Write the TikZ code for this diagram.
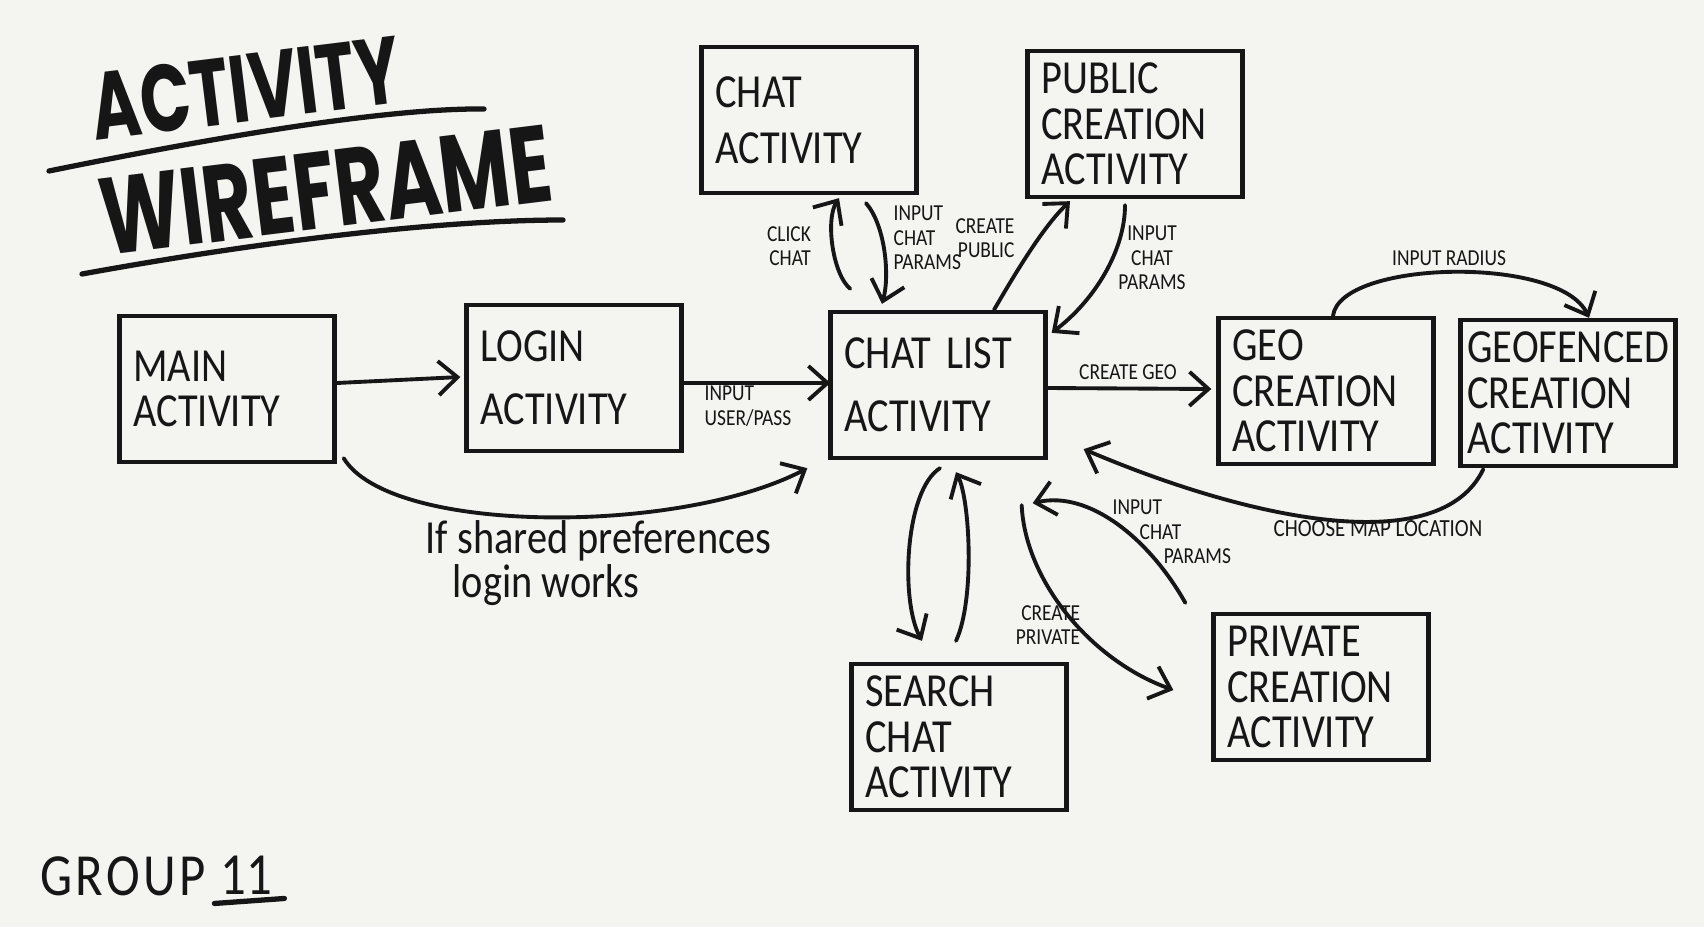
\documentclass[tikz,border=0pt]{standalone}
\usepackage{fontspec}
\setmainfont{Carlito}
\newfontfamily\handfont[FakeStretch=0.85]{Carlito}
\newfontfamily\titlefont[FakeStretch=0.7]{Poppins}
\usetikzlibrary{arrows.meta,calc}
\definecolor{paper}{RGB}{244,244,240}
\definecolor{ink}{RGB}{22,22,22}

\tikzset{
  activity/.style={draw=ink,line width=1.2pt,minimum width=2.15cm,minimum height=1.46cm,
    inner xsep=0.14cm,text width=1.87cm,align=left,text=ink,
    font=\handfont\fontsize{13.5}{13}\selectfont},
  link/.style={draw=ink,line width=1.1pt,line cap=round,
    -{Straight Barb[length=1.9mm,width=3.4mm]}},
  small/.style={font=\handfont\fontsize{6.5}{7}\selectfont,text=ink,inner sep=0pt},
  title/.style={font=\titlefont\bfseries,text=ink,rotate=7,inner sep=0pt},
  rule/.style={draw=ink,line width=1.5pt,line cap=round},
}

\begin{document}
\begin{tikzpicture}[x=0.01cm,y=-0.01cm]
\fill[paper](0,0)rectangle(1704,927);
% title
\node[title,font=\titlefont\bfseries\fontsize{27}{27}\selectfont](titleA)at(246,88){ACTIVITY};
\node[title,font=\titlefont\bfseries\fontsize{31}{31}\selectfont](titleB)at(326,190){WIREFRAME};
\draw[rule](49,171)..controls(250,130)and(400,108)..(484,109);
\draw[rule](82,274)..controls(280,238)and(450,220)..(563,220);
% activities
\node[activity](main)at(227,389){MAIN\\ACTIVITY};
\node[activity](login)at(574,378){LOGIN\\[5pt]ACTIVITY};
\node[activity](chatlist)at(938,385){CHAT LIST\\[5pt]ACTIVITY};
\node[activity](chat)at(809,120){CHAT\\[3pt]ACTIVITY};
\node[activity](public)at(1135,124){PUBLIC\\CREATION\\ACTIVITY};
\node[activity](geo)at(1326,391){GEO\\CREATION\\ACTIVITY};
\node[activity,inner xsep=0.07cm,text width=2.01cm](geofenced)at(1568,393){GEOFENCED\\CREATION\\ACTIVITY};
\node[activity](search)at(959,737){SEARCH\\CHAT\\ACTIVITY};
\node[activity](private)at(1321,687){PRIVATE\\CREATION\\ACTIVITY};
% transitions
\draw[link]($(main.east)+(0,-6)$)--($(login.west)+(-4,-1)$);
\draw[link]($(login.east)+(0,5)$)--($(chatlist.west)+(2,-2)$);
\draw[link]($(main.south east)+(7,-6)$)..controls(390,535)and(680,535)..($(chatlist.south west)+(-21,8)$);
\draw[link]($(chatlist.north west)+(22,-21)$)..controls(833,275)and(825,220)..($(chat.south)+(30,3)$);
\draw[link]($(chat.south)+(57,8)$)..controls(885,225)and(890,275)..($(chatlist.north)+(-56,-6)$);
\draw[link]($(chatlist.north)+(56,0)$)..controls(1020,265)and(1045,225)..($(public.south)+(-65,2)$);
\draw[link]($(public.south)+(-10,6)$)..controls(1125,250)and(1095,300)..($(chatlist.north east)+(4,23)$);
\draw[link]($(chatlist.east)+(0,3)$)--($(geo.west)+(-5,-2)$);
\draw[link]($(geo.north)+(7,0)$)..controls(1340,260)and(1560,255)..($(geofenced.north)+(21,0)$);
\draw[link]($(geofenced.south west)+(25,1)$)..controls(1440,560)and(1250,520)..($(chatlist.south east)+(36,-11)$);
\draw[link]($(chatlist.south)+(2,8)$)..controls(905,490)and(900,600)..($(search.north)+(-37,-21)$);
\draw[link]($(search.north)+(-3,-21)$)..controls(975,600)and(970,500)..($(chatlist.south)+(18,12)$);
\draw[link]($(chatlist.south east)+(-26,45)$)..controls(1025,580)and(1090,660)..($(private.west)+(-38,3)$);
\draw[link]($(private.north west)+(-26,-9)$)..controls(1150,540)and(1090,490)..($(chatlist.south east)+(-15,43)$);
% labels
\node[small,align=left](lblUser)at(748,406){INPUT\\USER/PASS};
\node[small,align=right](lblClick)at(789,246){CLICK\\CHAT};
\node[small,align=left,anchor=west](lblParamsA)at(893,238){INPUT\\CHAT\\PARAMS};
\node[small,align=right](lblPublic)at(985,238){CREATE\\PUBLIC};
\node[small,align=center](lblParamsB)at(1152,258){INPUT\\CHAT\\PARAMS};
\node[small](lblGeo)at(1128,372){CREATE GEO};
\node[small](lblRadius)at(1449,258){INPUT RADIUS};
\node[small,font=\handfont\fontsize{7}{7}\selectfont](lblMap)at(1378,529){CHOOSE MAP LOCATION};
\node[small,align=right](lblPrivate)at(1048,625){CREATE\\PRIVATE};
\node[small,align=left,anchor=west](lblParamsC)at(1112,532){INPUT\\\hspace*{0.27cm}CHAT\\\hspace*{0.51cm}PARAMS};
\node[font=\handfont\fontsize{13.5}{10}\selectfont,text=ink,align=left,anchor=west,inner sep=0pt]
  (lblPrefs)at(425,563){If shared preferences\\\hspace*{0.27cm}login works};
% group
\node[font=\handfont\fontsize{17}{17}\selectfont\addfontfeature{LetterSpace=6},text=ink,anchor=west,inner sep=1pt](group)at(36,876){GROUP};
\node[font=\handfont\fontsize{17}{17}\selectfont,text=ink,anchor=west,inner sep=1pt](eleven)at($(group.east)+(6,-1)$){11};
\draw[rule]($(eleven.south west)+(-2,5)$)--($(eleven.south east)+(8,0)$);
\end{tikzpicture}
\end{document}
